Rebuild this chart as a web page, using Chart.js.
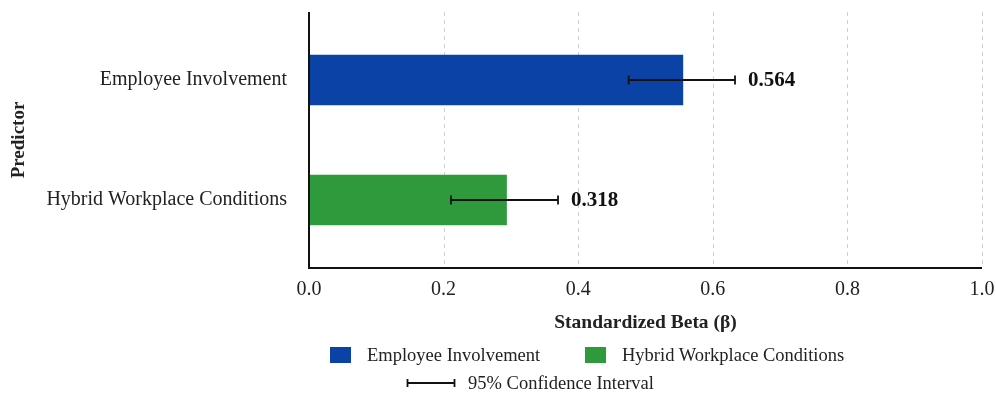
<!DOCTYPE html>
<html lang="en">
<head>
    <meta charset="UTF-8">
    <title>Standardized Beta by Predictor</title>
    <script src="https://cdn.jsdelivr.net/npm/chart.js@4.4.1/dist/chart.umd.min.js"></script>
    <style>
        body { margin: 0; background: #fff; }
        .wrap { position: relative; width: 996px; height: 397px; }
        canvas { position: absolute; left: 0; top: 0; }
        .legend { position: absolute; font-family: "Liberation Serif", serif; font-size: 18.5px; color: #222; }
        .legend .item { position: absolute; white-space: nowrap; line-height: 22px; }
        .legend .box { position: absolute; width: 21px; height: 16px; }
    </style>
</head>
<body>
    <div class="wrap">
        <canvas id="betaChart" width="996" height="397"></canvas>
        <!-- Legend -->
        <div class="legend" style="left:0;top:0;">
            <div class="box" style="left:330px;top:347px;background:#0A42A5;"></div>
            <div class="item" style="left:367px;top:344px;">Employee Involvement</div>
            <div class="box" style="left:585px;top:347px;background:#2F9A3B;"></div>
            <div class="item" style="left:622px;top:344px;">Hybrid Workplace Conditions</div>
            <svg style="position:absolute;left:406px;top:377px;" width="50" height="12">
                <line x1="1" y1="6" x2="49" y2="6" stroke="#111" stroke-width="1.8"/>
                <line x1="1.5" y1="2" x2="1.5" y2="10" stroke="#111" stroke-width="1.8"/>
                <line x1="48.5" y1="2" x2="48.5" y2="10" stroke="#111" stroke-width="1.8"/>
            </svg>
            <div class="item" style="left:468px;top:372px;">95% Confidence Interval</div>
        </div>
    </div>

    <script>
        // Data
        const predictors = ['Employee Involvement', 'Hybrid Workplace Conditions'];
        const betaValues = [0.556, 0.294];
        const ciLower = [0.475, 0.211];
        const ciUpper = [0.633, 0.370];
        const betaLabels = ['0.564', '0.318'];
        const xTickValues = [0, 0.2, 0.4, 0.6, 0.8, 1.0];
        const barColors = ['#0A42A5', '#2F9A3B'];

        const serif = '"Liberation Serif", "Times New Roman", serif';

        // no extra label overflow padding, so the layout padding decides the plot area
        function noPadding(scale) {
            scale.paddingLeft = 0;
            scale.paddingRight = 0;
            scale.paddingTop = 0;
            scale.paddingBottom = 0;
        }

        // Dashed grid + axis lines (drawn a bit past the chart area like the original)
        const axesPlugin = {
            id: 'axesPlugin',
            beforeDatasetsDraw(chart) {
                const { ctx, chartArea, scales: { x } } = chart;
                const top = chartArea.top - 8, bottom = chartArea.bottom + 8;
                ctx.save();
                ctx.strokeStyle = '#cfcfcf';
                ctx.lineWidth = 1;
                ctx.setLineDash([4, 4]);
                xTickValues.forEach(v => {
                    if (v === 0) return;
                    const px = Math.round(x.getPixelForValue(v)) + 0.5;
                    ctx.beginPath();
                    ctx.moveTo(px, top);
                    ctx.lineTo(px, bottom);
                    ctx.stroke();
                });
                ctx.restore();
            },
            afterDatasetsDraw(chart) {
                const { ctx, chartArea, scales: { x, y } } = chart;
                const top = chartArea.top - 8, bottom = chartArea.bottom + 8;
                ctx.save();
                // axis lines
                ctx.strokeStyle = '#111';
                ctx.lineWidth = 2;
                ctx.beginPath();
                ctx.moveTo(chartArea.left, top);
                ctx.lineTo(chartArea.left, bottom);
                ctx.lineTo(chartArea.right, bottom);
                ctx.stroke();

                // error bars and value labels
                ctx.lineWidth = 1.8;
                ctx.font = 'bold 21px ' + serif;
                ctx.fillStyle = '#111';
                ctx.textBaseline = 'middle';
                predictors.forEach((_, i) => {
                    const yc = y.getPixelForValue(i);
                    const xl = x.getPixelForValue(ciLower[i]);
                    const xh = x.getPixelForValue(ciUpper[i]);
                    ctx.beginPath();
                    ctx.moveTo(xl, yc); ctx.lineTo(xh, yc);
                    ctx.moveTo(xl, yc - 4.5); ctx.lineTo(xl, yc + 4.5);
                    ctx.moveTo(xh, yc - 4.5); ctx.lineTo(xh, yc + 4.5);
                    ctx.stroke();
                    ctx.fillText(betaLabels[i], xh + 13, yc + 1);
                });
                ctx.restore();
            }
        };

        const ctx = document.getElementById('betaChart').getContext('2d');
        new Chart(ctx, {
            type: 'bar',
            data: {
                labels: predictors,
                datasets: [{
                    label: 'Standardized Beta',
                    data: betaValues,
                    backgroundColor: barColors,
                    borderWidth: 0,
                    categoryPercentage: 0.42,
                    barPercentage: 1
                }]
            },
            options: {
                indexAxis: 'y',
                responsive: false,
                animation: false,
                devicePixelRatio: 1,
                layout: { padding: { top: 20, right: 14, bottom: 62, left: 0 } },
                scales: {
                    x: {
                        min: 0,
                        max: 1,
                        afterBuildTicks(scale) {
                            scale.ticks = xTickValues.map(v => ({ value: v }));
                        },
                        afterFit(scale) { scale.height = 75; noPadding(scale); },
                        grid: { display: false, drawTicks: false },
                        border: { display: false },
                        ticks: {
                            padding: 18,
                            color: '#222',
                            font: { family: serif, size: 20 },
                            callback: v => Number(v).toFixed(1)
                        },
                        title: {
                            display: true,
                            text: 'Standardized Beta (β)',
                            color: '#222',
                            font: { family: serif, size: 19.5, weight: 'bold' },
                            padding: { top: 4, bottom: 0 }
                        }
                    },
                    y: {
                        afterFit(scale) { scale.width = 309; noPadding(scale); },
                        grid: { display: false, drawTicks: false },
                        border: { display: false },
                        ticks: {
                            padding: 22,
                            color: '#222',
                            font: { family: serif, size: 20 }
                        },
                        title: {
                            display: true,
                            text: 'Predictor',
                            color: '#222',
                            font: { family: serif, size: 19, weight: 'bold' },
                            padding: { top: 8, bottom: 0 }
                        }
                    }
                },
                plugins: {
                    legend: { display: false },
                    tooltip: { enabled: false }
                }
            },
            plugins: [axesPlugin]
        });
    </script>
</body>
</html>
